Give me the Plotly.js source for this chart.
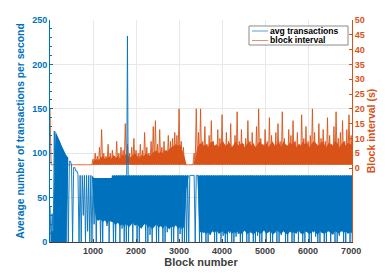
<!DOCTYPE html>
<html><head><meta charset="utf-8">
<script src="https://cdn.plot.ly/plotly-3.0.1.min.js"></script>
<style>html,body{margin:0;padding:0;background:#fff}#chart{width:390px;height:273px}</style>
</head><body><div id="chart"></div>
<script>
// Values are read per bin of 50 blocks.
const binSize = 50;
// avg transactions: extreme values per bin (thin lines)
const blueMax = [
  40, 32, 125, 120, 114, 108, 103, 98, 95, 91,
  87, 84, 80, 76, 75, 75, 75, 75, 75, 75,
  72, 72, 72, 72, 72, 72, 72, 72, 72, 75,
  75, 75, 75, 75, 75, 75, 232, 75, 75, 75,
  75, 75, 75, 75, 75, 75, 75, 75, 75, 75,
  75, 75, 75, 75, 75, 75, 75, 75, 75, 75,
  75, 75, 75, 75, 75, 75, 75, 75, 75, 75,
  75, 75, 75, 75, 75, 75, 75, 75, 75, 75,
  75, 75, 75, 75, 75, 75, 75, 75, 75, 75,
  75, 75, 75, 75, 75, 75, 75, 75, 75, 75,
  75, 75, 75, 75, 75, 75, 75, 75, 75, 75,
  75, 75, 75, 75, 75, 75, 75, 75, 75, 75,
  75, 75, 75, 75, 75, 75, 75, 75, 75, 75,
  75, 75, 75, 75, 75, 75, 75, 75, 75, 75,
  75
];
const blueMin = [
  0, 3, 0, 0, 0, 0, 5, 0, 0, 91,
  0, 84, 80, 0, 0, 30, 0, 12, 0, 0,
  20, 0, 25, 0, 0, 24, 18, 0, 23, 0,
  0, 22, 0, 15, 0, 0, 0, 19, 0, 24,
  0, 0, 17, 21, 0, 0, 8, 0, 20, 0,
  0, 18, 0, 0, 11, 17, 0, 0, 20, 0,
  9, 0, 0, 0, 0, 75, 75, 0, 75, 0,
  0, 10, 0, 0, 8, 13, 0, 0, 11, 0,
  7, 0, 0, 10, 0, 0, 6, 9, 0, 0,
  13, 0, 0, 10, 0, 0, 7, 0, 0, 14,
  0, 11, 0, 0, 10, 0, 0, 8, 13, 0,
  0, 11, 0, 0, 12, 0, 10, 0, 0, 13,
  0, 0, 11, 6, 0, 0, 10, 0, 0, 14,
  0, 9, 0, 0, 7, 12, 0, 0, 13, 0,
  0
];
// avg transactions: range that looks solid per bin
const blueBandTop = [
  12, 12, 125, 120, 114, 108, 103, 98, 95, 91,
  87, 84, 80, 76, 75, 75, 75, 75, 75, 75,
  72, 72, 72, 72, 72, 72, 72, 72, 72, 75,
  75, 75, 75, 75, 75, 75, 75, 75, 75, 75,
  75, 75, 75, 75, 75, 75, 75, 75, 75, 75,
  75, 75, 75, 75, 75, 75, 75, 75, 75, 75,
  75, 75, 75, 75, 75, 75, 75, 75, 75, 75,
  75, 75, 75, 75, 75, 75, 75, 75, 75, 75,
  75, 75, 75, 75, 75, 75, 75, 75, 75, 75,
  75, 75, 75, 75, 75, 75, 75, 75, 75, 75,
  75, 75, 75, 75, 75, 75, 75, 75, 75, 75,
  75, 75, 75, 75, 75, 75, 75, 75, 75, 75,
  75, 75, 75, 75, 75, 75, 75, 75, 75, 75,
  75, 75, 75, 75, 75, 75, 75, 75, 75, 75,
  75
];
const blueBandLow = [
  0, 0, 0, 0, 0, 0, 0, 0, 95, 91,
  87, 84, 80, 76, 75, 75, 75, 75, 75, 75,
  40, 25, 24, 26, 22, 25, 20, 24, 23, 22,
  19, 22, 18, 20, 17, 21, 16, 19, 22, 18,
  20, 17, 15, 19, 21, 16, 18, 14, 17, 20,
  16, 18, 15, 19, 17, 14, 18, 16, 19, 15,
  17, 14, 18, 60, 75, 75, 75, 75, 75, 12,
  10, 12, 9, 11, 8, 12, 10, 13, 9, 11,
  12, 8, 10, 13, 9, 11, 10, 12, 8, 11,
  13, 9, 10, 12, 8, 11, 12, 9, 10, 13,
  9, 11, 12, 8, 10, 13, 11, 9, 12, 10,
  8, 12, 10, 11, 9, 13, 10, 8, 12, 11,
  9, 10, 13, 11, 8, 12, 10, 9, 11, 12,
  10, 8, 12, 11, 9, 13, 10, 12, 9, 11,
  10
];
// block interval: highest value per bin (thin spikes)
const orangeMax = [
  20, 1.1, 1.1, 1.1, 1.1, 1.1, 1.1, 1.1, 1.1, 1.1,
  1.1, 1.1, 1.1, 1.1, 1.1, 1.1, 1.1, 1.1, 1.1, 1.1,
  3, 5, 4, 7, 13, 5, 4, 8, 5, 6,
  4, 9, 5, 7, 6, 15, 8, 5, 7, 10,
  6, 5, 8, 6, 12, 7, 5, 9, 14, 16,
  8, 13, 7, 9, 6, 11, 9, 10, 12, 11,
  20, 9, 7, 1.1, 1.1, 1.1, 1.1, 5, 20, 12,
  20, 9, 14, 8, 11, 16, 9, 7, 13, 10,
  18, 8, 12, 9, 15, 7, 11, 19, 9, 13,
  8, 10, 16, 9, 12, 7, 14, 20, 10, 8,
  13, 9, 17, 11, 8, 12, 15, 9, 19, 10,
  7, 13, 11, 16, 9, 12, 8, 18, 10, 14,
  9, 11, 20, 12, 8, 15, 10, 13, 9, 17,
  11, 8, 14, 19, 10, 12, 16, 9, 13, 18,
  11
];
// block interval: lowest value per bin
const orangeMin = [
  1.1, 1.1, 1.1, 1.1, 1.1, 1.1, 1.1, 1.1, 1.1, 1.1,
  1.1, 1.1, 1.1, 1.1, 1.1, 1.1, 1.1, 1.1, 1.1, 1.1,
  1.1, 1.1, 1.1, 1.1, 1.1, 1.1, 1.1, 1.1, 1.1, 1.1,
  1.1, 1.1, 1.1, 1.1, 1.1, 1.1, 1.1, 1.1, 1.1, 1.1,
  1.1, 1.1, 1.1, 1.1, 1.1, 1.1, 1.1, 1.1, 1.1, 1.1,
  1.1, 1.1, 1.1, 1.1, 1.1, 1.1, 1.1, 1.1, 1.1, 1.1,
  1.1, 1.1, 1.1, 1.1, 1.1, 1.1, 1.1, 1.1, 1.1, 1.1,
  1.1, 1.1, 1.1, 1.1, 1.1, 1.1, 1.1, 1.1, 1.1, 1.1,
  1.1, 1.1, 1.1, 1.1, 1.1, 1.1, 1.1, 1.1, 1.1, 1.1,
  1.1, 1.1, 1.1, 1.1, 1.1, 1.1, 1.1, 1.1, 1.1, 1.1,
  1.1, 1.1, 1.1, 1.1, 1.1, 1.1, 1.1, 1.1, 1.1, 1.1,
  1.1, 1.1, 1.1, 1.1, 1.1, 1.1, 1.1, 1.1, 1.1, 1.1,
  1.1, 1.1, 1.1, 1.1, 1.1, 1.1, 1.1, 1.1, 1.1, 1.1,
  1.1, 1.1, 1.1, 1.1, 1.1, 1.1, 1.1, 1.1, 1.1, 1.1,
  1.1
];
// block interval: level up to which the bin looks solid
const orangeBandTop = [
  1.1, 1.1, 1.1, 1.1, 1.1, 1.1, 1.1, 1.1, 1.1, 1.1,
  1.1, 1.1, 1.1, 1.1, 1.1, 1.1, 1.1, 1.1, 1.1, 1.1,
  2.5, 3, 2.5, 3.5, 4, 3, 3.5, 4, 3, 4.5,
  3.5, 4, 3, 4.5, 4, 5, 4, 3.5, 4.5, 5,
  4, 3.5, 4.5, 4, 5, 4.5, 4, 5, 5.5, 6,
  5, 5.5, 5, 6, 5.5, 6.5, 7, 7.5, 8, 7.5,
  8, 6, 4, 1.1, 1.1, 1.1, 1.1, 3, 7, 8,
  8.5, 7.5, 8, 7, 8.5, 9, 7.5, 8, 7, 8.5,
  9, 7.5, 8, 8.5, 7, 8, 9, 7.5, 8, 8.5,
  7, 8, 9, 7.5, 8.5, 7, 8, 9, 8, 7.5,
  8.5, 7, 8, 9, 7.5, 8, 8.5, 7, 9, 8,
  7.5, 8.5, 8, 9, 7, 8, 7.5, 9, 8, 8.5,
  7, 8, 9, 8.5, 7.5, 8, 9, 8, 7, 8.5,
  8, 7.5, 9, 8.5, 7, 8, 9, 7.5, 8.5, 8,
  8
];
const xTicks = [1000, 2000, 3000, 4000, 5000, 6000, 7000];
const leftTicks = [0, 50, 100, 150, 200, 250];
const rightTicks = [0, 5, 10, 15, 20, 25, 30, 35, 40, 45, 50];
const seriesNames = ['avg transactions', 'block interval'];

const BLUE = '#0072BD', ORANGE = '#D95319';
const FONT = 'Liberation Sans, Arial, Helvetica, sans-serif';

function zigzag(maxArr, minArr) {
  const x = [], y = [];
  for (let i = 0; i < maxArr.length; i++) {
    x.push(i * binSize, i * binSize + binSize / 2);
    y.push(maxArr[i], minArr[i]);
  }
  return {x, y};
}
const centers = blueMax.map((_, i) => i * binSize + binSize / 2);
const b = zigzag(blueMax, blueMin);
const o = zigzag(orangeMax, orangeMin);

const common = {type: 'scatter', mode: 'lines', showlegend: false, hoverinfo: 'skip', xaxis: 'x'};
const traces = [
  Object.assign({}, common, {x: centers, y: orangeMin, yaxis: 'y', line: {width: 0, color: ORANGE}}),
  Object.assign({}, common, {x: centers, y: orangeBandTop, yaxis: 'y', line: {width: 0, color: ORANGE},
    fill: 'tonexty', fillcolor: ORANGE}),
  Object.assign({}, common, {x: o.x, y: o.y, yaxis: 'y', name: seriesNames[1],
    line: {color: ORANGE, width: 0.9, simplify: false}}),
  Object.assign({}, common, {x: centers, y: blueBandLow, yaxis: 'y2', line: {width: 0, color: BLUE}}),
  Object.assign({}, common, {x: centers, y: blueBandTop, yaxis: 'y2', line: {width: 0, color: BLUE},
    fill: 'tonexty', fillcolor: BLUE}),
  Object.assign({}, common, {x: b.x, y: b.y, yaxis: 'y2', name: seriesNames[0],
    line: {color: BLUE, width: 0.9, simplify: false}})
];

// plot-area geometry in px for the hand-drawn legend box
const L = 50, R = 352, T = 20, B = 242;
const px = v => (v - L) / (R - L);
const py = v => (B - v) / (B - T);
const legShapes = [
  {type: 'rect', xref: 'paper', yref: 'paper', x0: px(249), x1: px(348), y0: py(45), y1: py(26),
   line: {color: '#8a8a8a', width: 1}, fillcolor: '#ffffff', layer: 'above'},
  {type: 'line', xref: 'paper', yref: 'paper', x0: px(252), x1: px(268), y0: py(31), y1: py(31),
   line: {color: '#5a9fd4', width: 1}, layer: 'above'},
  {type: 'line', xref: 'paper', yref: 'paper', x0: px(252), x1: px(268), y0: py(40.5), y1: py(40.5),
   line: {color: '#e8906a', width: 1}, layer: 'above'}
];
const legAnn = [
  {xref: 'paper', yref: 'paper', x: px(269), y: py(31), xanchor: 'left', yanchor: 'middle',
   text: seriesNames[0], showarrow: false, borderpad: 0,
   font: {family: FONT, size: 8.6, weight: 'bold', color: '#000'}},
  {xref: 'paper', yref: 'paper', x: px(269), y: py(40.5), xanchor: 'left', yanchor: 'middle',
   text: seriesNames[1], showarrow: false, borderpad: 0,
   font: {family: FONT, size: 8.6, weight: 'bold', color: '#000'}}
];

const layout = {
  width: 390, height: 273,
  margin: {l: L, r: 390 - R, t: T, b: 273 - B},
  paper_bgcolor: '#fff', plot_bgcolor: '#fff',
  font: {family: FONT},
  showlegend: false,
  xaxis: {
    range: [0, 7020], tickvals: xTicks, ticks: 'inside', ticklen: 3, tickcolor: '#404040',
    showline: true, linecolor: '#404040', linewidth: 1,
    showgrid: true, gridcolor: '#e8e8e8', zeroline: false,
    tickfont: {family: FONT, size: 9, weight: 'bold', color: '#404040'},
    title: {text: 'Block number', font: {family: FONT, size: 11, weight: 'bold', color: '#404040'}, standoff: 2}
  },
  yaxis: {
    side: 'right', range: [-25, 50], tickvals: rightTicks, ticks: 'inside', ticklen: 3,
    tickcolor: ORANGE, showline: true, linecolor: ORANGE, linewidth: 1,
    showgrid: false, zeroline: false,
    tickfont: {family: FONT, size: 9, weight: 'bold', color: ORANGE},
    title: {text: 'Block interval (s)', font: {family: FONT, size: 10.5, weight: 'bold', color: ORANGE}, standoff: 3}
  },
  yaxis2: {
    overlaying: 'y', side: 'left', anchor: 'x', range: [0, 250], tickvals: leftTicks,
    ticks: 'inside', ticklen: 3, tickcolor: BLUE, showline: true, linecolor: BLUE, linewidth: 1,
    showgrid: true, gridcolor: '#e8e8e8', zeroline: false,
    minor: {ticks: 'inside', ticklen: 2, dtick: 10, tickcolor: BLUE, showgrid: false},
    tickfont: {family: FONT, size: 9, weight: 'bold', color: BLUE},
    title: {text: 'Average number of transactions per second', font: {family: FONT, size: 10.3, weight: 'bold', color: BLUE}, standoff: 5}
  },
  shapes: legShapes,
  annotations: legAnn
};

Plotly.newPlot('chart', traces, layout, {staticPlot: true, displayModeBar: false});
</script></body></html>
